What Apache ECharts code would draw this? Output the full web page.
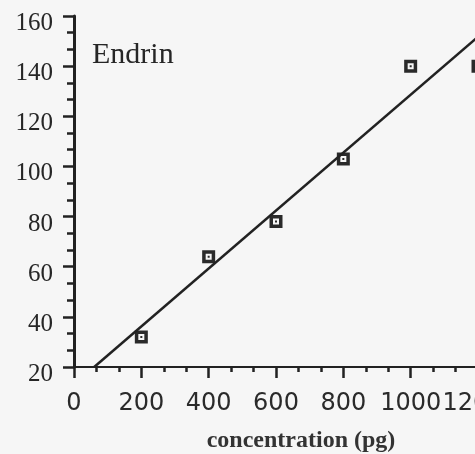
<!DOCTYPE html>
<html>
<head>
<meta charset="utf-8">
<script src="https://cdn.jsdelivr.net/npm/echarts@6/dist/echarts.min.js"></script>
<style>html,body{margin:0;padding:0;background:#f6f6f6;}#c{width:475px;height:454px;}</style>
</head>
<body>
<div id="c"></div>
<script>
// data
var concentration = [200, 400, 600, 800, 1000, 1200];
var response = [32, 64, 78, 103, 140, 140];
var fitX = [60, 1200];
var fitY = [20, 151.7];
var xTicks = [0, 200, 400, 600, 800, 1000, 1200];
var yTicks = [20, 40, 60, 80, 100, 120, 140, 160];
var titleText = 'Endrin';
var xName = 'concentration (pg)';

var pts = concentration.map(function (x, i) { return [x, response[i]]; });
var fit = fitX.map(function (x, i) { return [x, fitY[i]]; });

var chart = echarts.init(document.getElementById('c'));
chart.setOption({
  backgroundColor: '#f6f6f6',
  animation: false,
  title: {
    text: titleText, left: 87, top: 35,
    textStyle: { fontFamily: 'Liberation Serif', fontSize: 30, fontWeight: 'normal', color: '#262626' }
  },
  grid: { left: 74, right: -3, top: 16, bottom: 87, containLabel: false, outerBoundsMode: 'none' },
  xAxis: {
    type: 'value', min: xTicks[0], max: xTicks[xTicks.length - 1], interval: 200,
    name: xName, nameLocation: 'middle', nameGap: 62,
    nameTextStyle: { fontFamily: 'Liberation Serif', fontSize: 24, fontWeight: 'bold', color: '#333', padding: [0, 0, 0, 50] },
    axisLine: { show: true, onZero: false, lineStyle: { color: '#222', width: 2 } },
    axisTick: { show: true, length: 11, lineStyle: { color: '#222', width: 2.5 } },
    minorTick: { show: true, splitNumber: 3, length: 5, lineStyle: { color: '#222', width: 2.5 } },
    splitLine: { show: false },
    axisLabel: {
      margin: 25, fontFamily: 'DejaVu Sans', fontSize: 24, color: '#2a2a2a',
      showMaxLabel: true, showMinLabel: true, hideOverlap: false,
      formatter: function (v) { return v === 1200 ? '{s|' + v + '}' : String(v); },
      rich: { s: { fontFamily: 'DejaVu Sans', fontSize: 24, color: '#2a2a2a', padding: [0, 10, 0, 0] } }
    }
  },
  yAxis: {
    type: 'value', min: yTicks[0], max: yTicks[yTicks.length - 1], interval: 20,
    axisLine: { show: true, onZero: false, lineStyle: { color: '#222', width: 3 } },
    axisTick: { show: true, length: 11, lineStyle: { color: '#222', width: 2.5 } },
    minorTick: { show: true, splitNumber: 3, length: 7, lineStyle: { color: '#222', width: 2.5 } },
    splitLine: { show: false },
    axisLabel: { margin: 21, fontFamily: 'Liberation Serif', fontSize: 25, color: '#262626', verticalAlign: 'top', lineHeight: 15 }
  },
  series: [
    {
      type: 'line', data: fit, symbol: 'none', clip: true,
      lineStyle: { color: '#222', width: 2.5 }
    },
    {
      type: 'scatter', data: pts, symbolSize: 13,
      symbol: 'path://M0,0H13V13H0Z M3.5,3.5V9.5H9.5V3.5Z M5.5,5.5H7.5V7.5H5.5Z',
      itemStyle: { color: '#2a2a2a', opacity: 1 }
    }
  ]
});
</script>
</body>
</html>
